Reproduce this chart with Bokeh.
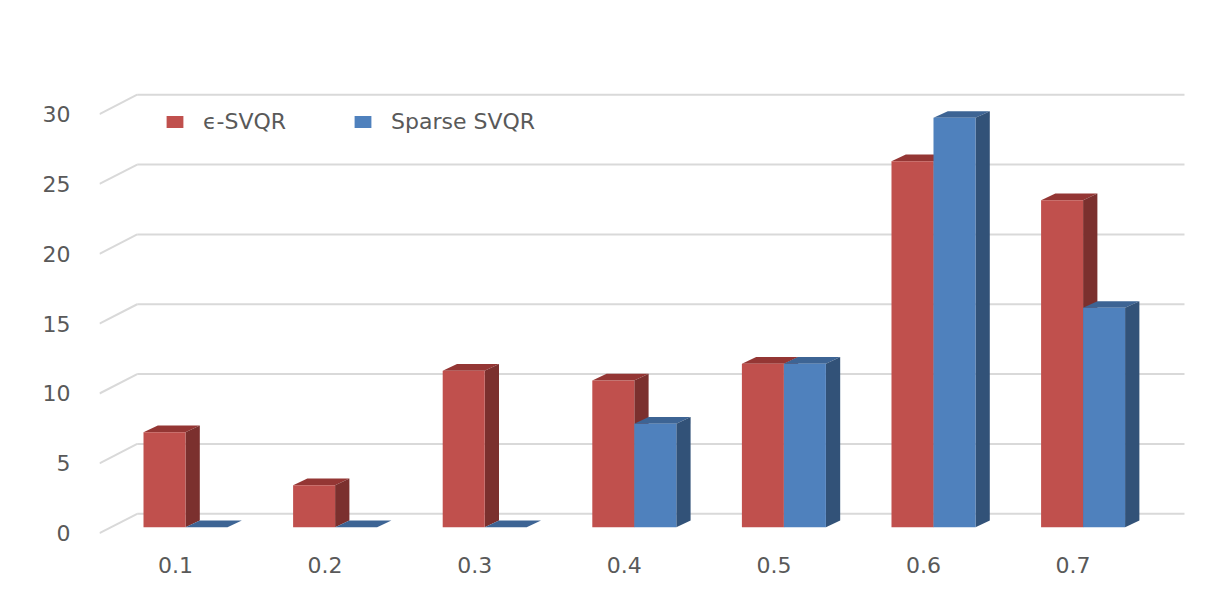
from bokeh.plotting import figure
from bokeh.models import Range1d, LinearAxis, FixedTicker, Legend, LegendItem
from bokeh.embed import file_html
from bokeh.resources import INLINE

# ---- data ----
categories = ["0.1", "0.2", "0.3", "0.4", "0.5", "0.6", "0.7"]
eps_svqr = [6.8, 3.0, 11.2, 10.5, 11.7, 26.2, 23.4]
sparse_svqr = [0.0, 0.0, 0.0, 7.4, 11.7, 29.3, 15.7]
y_ticks = [0, 5, 10, 15, 20, 25, 30]
series_names = ["\u03f5-SVQR", "Sparse SVQR"]

# ---- geometry (pixel constants converted to data units) ----
PX_X = 149.6      # pixels per category
PX_Y = 13.97      # pixels per value unit
X0, X1 = -0.5749, 6.718
Y0, Y1 = -0.952, 36.27
BAR_W = 42.0 / PX_X
DEP_X = 14.3 / PX_X
DEP_Y = 6.7 / PX_Y
WALL_Y = 13.4 / PX_Y       # back wall above bar front plane
FRONT_Y = 6.0 / PX_Y       # slant front end below bar front plane
WALL_X0 = (136.7 - 185) / PX_X
WALL_X1 = (1184 - 185) / PX_X
LAB_DX = 10.0 / PX_X

p = figure(width=1210, height=582, output_backend="svg", toolbar_location=None,
           x_range=Range1d(X0, X1), y_range=Range1d(Y0, Y1),
           x_axis_location=None, y_axis_location=None,
           min_border_left=99, min_border_right=20, min_border_top=20,
           min_border_bottom=42)
p.grid.visible = False
p.outline_line_color = None
p.background_fill_color = "white"
p.border_fill_color = "white"

# ---- back wall gridlines with slanted floor edges ----
gx0, gx1, gy0, gy1 = [], [], [], []
for t in y_ticks:
    gx0 += [WALL_X0, X0]
    gx1 += [WALL_X1, WALL_X0]
    gy0 += [t + WALL_Y, t - FRONT_Y]
    gy1 += [t + WALL_Y, t + WALL_Y]
p.segment(x0=gx0, y0=gy0, x1=gx1, y1=gy1, line_color="#d9d9d9", line_width=2)

# ---- 3D bars ----
styles = [
    dict(front="#c0504d", side="#7b302e", top="#943634"),
    dict(front="#4f81bd", side="#325278", top="#3d6494"),
]
front_renderers = []
for si, vals in enumerate([eps_svqr, sparse_svqr]):
    off = -BAR_W if si == 0 else 0.0
    tops_x, tops_y, sides_x, sides_y = [], [], [], []
    lefts, rights, heights = [], [], []
    for i, v in enumerate(vals):
        a = i + off
        b = a + BAR_W
        tops_x.append([a, b, b + DEP_X, a + DEP_X])
        tops_y.append([v, v, v + DEP_Y, v + DEP_Y])
        sides_x.append([b, b + DEP_X, b + DEP_X, b])
        sides_y.append([0, DEP_Y, v + DEP_Y, v])
        lefts.append(a)
        rights.append(b)
        heights.append(v)
    st = styles[si]
    p.patches(xs=tops_x, ys=tops_y, fill_color=st["top"], line_color=None)
    p.patches(xs=sides_x, ys=sides_y, fill_color=st["side"], line_color=None)
    r = p.quad(left=lefts, right=rights, bottom=[0] * len(vals), top=heights,
               fill_color=st["front"], line_color=None)
    front_renderers.append(r)

# ---- axes ----
p.extra_x_ranges = {"xlab": Range1d(X0 + LAB_DX, X1 + LAB_DX)}
p.extra_y_ranges = {"ylab": Range1d(Y0 + FRONT_Y, Y1 + FRONT_Y)}

xaxis = LinearAxis(x_range_name="xlab", ticker=FixedTicker(ticks=list(range(len(categories)))),
                   major_label_overrides={i: c for i, c in enumerate(categories)})
yaxis = LinearAxis(y_range_name="ylab", ticker=FixedTicker(ticks=y_ticks))
for ax, standoff in [(xaxis, 16), (yaxis, 29)]:
    ax.axis_line_color = None
    ax.major_tick_line_color = None
    ax.minor_tick_line_color = None
    ax.major_tick_in = 0
    ax.major_tick_out = 0
    ax.major_label_standoff = standoff
    ax.major_label_text_font = "DejaVu Sans"
    ax.major_label_text_font_size = "22px"
    ax.major_label_text_color = "#595959"
p.add_layout(xaxis, "below")
p.add_layout(yaxis, "left")

# ---- legend ----
legend = Legend(items=[LegendItem(label=series_names[k], renderers=[front_renderers[k]])
                       for k in range(2)],
                orientation="horizontal", location=(65, 406),
                glyph_width=21, glyph_height=15, label_standoff=18, spacing=66,
                padding=0, margin=0, border_line_color=None, background_fill_alpha=0,
                label_text_font="DejaVu Sans", label_text_font_size="22px",
                label_text_color="#595959")
p.add_layout(legend)

open("out.html", "w").write(file_html(p, INLINE))
